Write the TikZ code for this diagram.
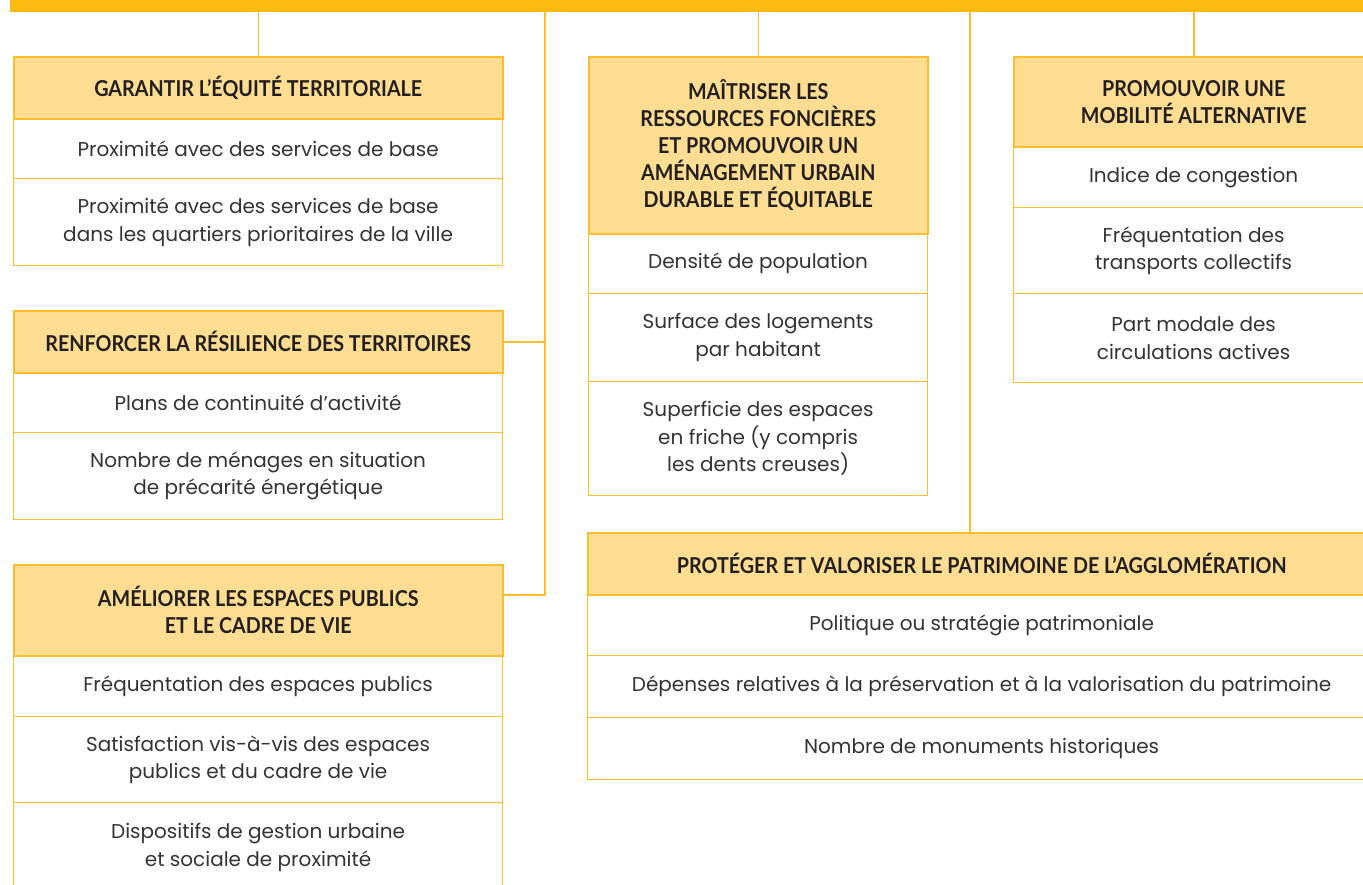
\documentclass[tikz,border=0pt]{standalone}
\usepackage{fontspec}
\setmainfont{Poppins}
\newfontfamily\hdrfont[FakeStretch=0.9]{Lato}
\definecolor{barc}{HTML}{FDBA13}
\definecolor{hdrfill}{HTML}{FDDD92}
\definecolor{linec}{HTML}{FDBE2C}
\definecolor{txt}{HTML}{231F20}
\definecolor{bodytxt}{HTML}{333333}
\begin{document}
\begin{tikzpicture}[x=1pt,y=-1pt,
 hdr/.style={draw=linec, fill=hdrfill, line width=1.5pt, inner sep=0pt, anchor=north west, align=center, font=\hdrfont\bfseries\fontsize{21.9}{27}\selectfont, text=txt},
 row/.style={draw=linec, fill=white, line width=1.2pt, inner sep=0pt, anchor=north west, align=center, font=\fontsize{20}{27.5}\selectfont, text=bodytxt},
 conn/.style={draw=linec, line width=1.5pt},
 barstyle/.style={fill=barc, draw=none, inner sep=0pt, anchor=north west, minimum width=1370pt, minimum height=12pt}]
\useasboundingbox (0,0) rectangle (1363,884);
\clip (0,0) rectangle (1363,884);
\fill[white] (0,0) rectangle (1363,884);
\node[barstyle] (bar) at (10,0) {};
% left column
\node[row, minimum width=489pt, minimum height=60pt] (g1a) at (13,118) {Proximité avec des services de base};
\node[row, minimum width=489pt, minimum height=87pt] (g1b) at (13,178) {Proximité avec des services de base\\dans les quartiers prioritaires de la ville};
\node[hdr, minimum width=489pt, minimum height=62pt] (g1) at (13,56) {GARANTIR L’ÉQUITÉ TERRITORIALE};
\node[row, minimum width=489pt, minimum height=60pt] (g2a) at (13,372) {Plans de continuité d’activité};
\node[row, minimum width=489pt, minimum height=87pt] (g2b) at (13,432) {Nombre de ménages en situation\\de précarité énergétique};
\node[hdr, minimum width=489pt, minimum height=62pt] (g2) at (13,310) {RENFORCER LA RÉSILIENCE DES TERRITOIRES};
\node[row, minimum width=489pt, minimum height=61pt] (g3a) at (13,655) {Fréquentation des espaces publics};
\node[row, minimum width=489pt, minimum height=86pt] (g3b) at (13,716) {Satisfaction vis-à-vis des espaces\\publics et du cadre de vie};
\node[row, minimum width=489pt, minimum height=90pt] (g3c) at (13,802) {Dispositifs de gestion urbaine\\et sociale de proximité};
\node[hdr, minimum width=489pt, minimum height=91pt] (g3) at (13,564) {AMÉLIORER LES ESPACES PUBLICS\\ET LE CADRE DE VIE};
% middle column
\node[row, minimum width=339pt, minimum height=60pt] (m1a) at (588,233) {Densité de population};
\node[row, minimum width=339pt, minimum height=88pt] (m1b) at (588,293) {Surface des logements\\par habitant};
\node[row, minimum width=339pt, minimum height=114pt] (m1c) at (588,381) {Superficie des espaces\\en friche (y compris\\les dents creuses)};
\node[hdr, minimum width=339pt, minimum height=177pt] (m1) at (588,56) {MAÎTRISER LES\\RESSOURCES FONCIÈRES\\ET PROMOUVOIR UN\\AMÉNAGEMENT URBAIN\\DURABLE ET ÉQUITABLE};
% right column
\node[row, minimum width=360pt, minimum height=61pt] (r1a) at (1013,146) {Indice de congestion};
\node[row, minimum width=360pt, minimum height=86pt] (r1b) at (1013,207) {Fréquentation des\\transports collectifs};
\node[row, minimum width=360pt, minimum height=89pt] (r1c) at (1013,293) {Part modale des\\circulations actives};
\node[hdr, minimum width=360pt, minimum height=90pt] (r1) at (1013,56) {PROMOUVOIR UNE\\MOBILITÉ ALTERNATIVE};
% bottom right
\node[row, minimum width=788pt, minimum height=61pt] (p1a) at (587,594) {Politique ou stratégie patrimoniale};
\node[row, minimum width=788pt, minimum height=62pt] (p1b) at (587,655) {Dépenses relatives à la préservation et à la valorisation du patrimoine};
\node[row, minimum width=788pt, minimum height=62pt] (p1c) at (587,717) {Nombre de monuments historiques};
\node[hdr, minimum width=788pt, minimum height=62pt] (p1) at (587,532) {PROTÉGER ET VALORISER LE PATRIMOINE DE L’AGGLOMÉRATION};
% connectors
\coordinate (j2) at (545,595);
\coordinate (j4) at (970,532);
\draw[conn] (g1.north |- bar.south) -- (g1.north);
\draw[conn] (m1.north |- bar.south) -- (m1.north);
\draw[conn] (r1.north |- bar.south) -- (r1.north);
\draw[conn] (bar.south -| j2) -- (j2) -- (j2 -| g3.east);
\draw[conn] (g2.east) -- (g2.east -| j2);
\draw[conn] (bar.south -| j4) -- (j4 |- p1.north);
\end{tikzpicture}
\end{document}
